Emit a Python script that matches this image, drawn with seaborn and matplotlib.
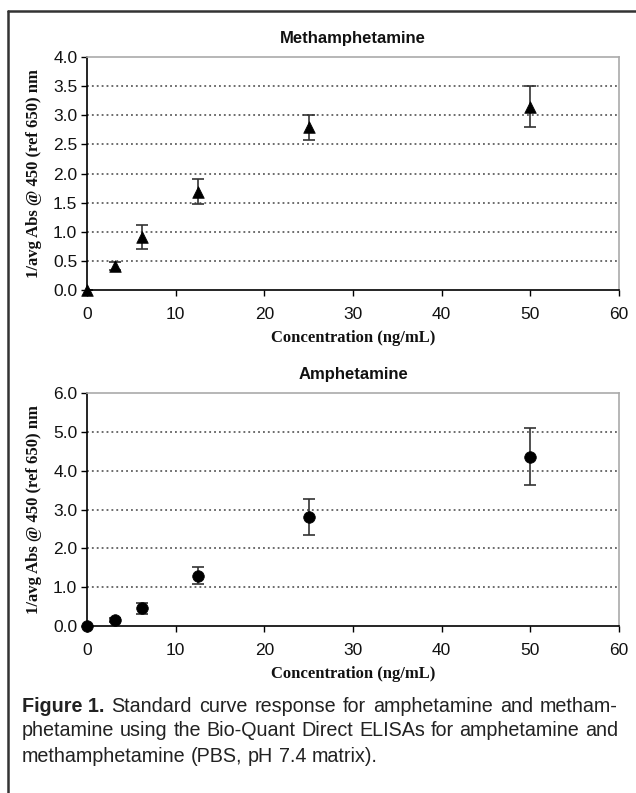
import matplotlib
matplotlib.use("Agg")
import matplotlib.pyplot as plt
import seaborn as sns
import pandas as pd
from matplotlib.lines import Line2D

# Data
conc = [0, 3.125, 6.25, 12.5, 25, 50]
meth_y = [0.0, 0.41, 0.91, 1.69, 2.79, 3.15]
meth_err = [0.0, 0.07, 0.20, 0.21, 0.22, 0.36]
amph_y = [0.0, 0.15, 0.46, 1.29, 2.81, 4.36]
amph_err = [0.0, 0.05, 0.14, 0.22, 0.46, 0.74]

meth_yticks = [0.0, 0.5, 1.0, 1.5, 2.0, 2.5, 3.0, 3.5, 4.0]
amph_yticks = [0.0, 1.0, 2.0, 3.0, 4.0, 5.0, 6.0]
xticks = [0, 10, 20, 30, 40, 50, 60]

titles = ["Methamphetamine", "Amphetamine"]
ylabel = "1/avg Abs @ 450 (ref 650) nm"
xlabel = "Concentration (ng/mL)"
caption_bold = "Figure 1."
caption_lines = [
    "Standard curve response for amphetamine and metham-",
    "phetamine using the Bio-Quant Direct ELISAs for amphetamine and",
    "methamphetamine (PBS, pH 7.4 matrix).",
]

sns.set_theme(style="white")
plt.rcParams["font.family"] = ["Liberation Sans", "DejaVu Sans"]

W, H = 636, 793
fig = plt.figure(figsize=(W / 100, H / 100), dpi=100)

def fx(px):
    return px / W

def fy(py):
    return 1 - py / H

ax1 = fig.add_axes([fx(87), fy(290), fx(619) - fx(87), fy(57) - fy(290)])
ax2 = fig.add_axes([fx(87), fy(626), fx(619) - fx(87), fy(393) - fy(626)])

df1 = pd.DataFrame({"x": conc, "y": meth_y})
df2 = pd.DataFrame({"x": conc, "y": amph_y})

panels = [
    (ax1, df1, meth_err, "^", meth_yticks, titles[0]),
    (ax2, df2, amph_err, "o", amph_yticks, titles[1]),
]

serif = ["Liberation Serif", "DejaVu Serif"]
for ax, df, err, mk, yt, title in panels:
    ax.set_xlim(0, 60)
    ax.set_ylim(yt[0], yt[-1])
    for v in yt[1:-1]:
        ax.axhline(v, color="#444444", lw=1.1, ls=(0, (1.2, 2.0)), zorder=1)
    ax.errorbar(df["x"], df["y"], yerr=err, fmt="none", ecolor="#333333",
                elinewidth=1.2, capsize=4.5, capthick=1.2, zorder=2)
    sns.scatterplot(data=df, x="x", y="y", marker=mk, s=70, color="black",
                    edgecolor="black", linewidth=0.5, ax=ax, zorder=3, clip_on=False)
    ax.set_xticks(xticks)
    ax.set_yticks(yt)
    ax.set_xticklabels([str(t) for t in xticks])
    ax.set_yticklabels([f"{t:.1f}" for t in yt])
    ax.tick_params(axis="both", which="major", labelsize=12.5, length=4,
                   width=1.0, color="black", direction="out",
                   bottom=True, left=True, pad=3, labelcolor="#111111")
    ax.tick_params(axis="x", pad=8)
    for s in ["left", "bottom"]:
        ax.spines[s].set_color("black")
        ax.spines[s].set_linewidth(1.2)
    for s in ["top", "right"]:
        ax.spines[s].set_color("#aaaaaa")
        ax.spines[s].set_linewidth(1.2)
    ax.set_xlabel(xlabel, family=serif, fontweight="bold", fontsize=12,
                  labelpad=6, color="#111111")
    ax.set_ylabel(ylabel, family=serif, fontweight="bold", fontsize=12,
                  labelpad=8, color="#111111")
    ax.set_title(title, fontweight="bold", fontsize=12, pad=10, color="#111111")
    ax.grid(False)
    ax.set_facecolor("white")

# Border lines of the figure box
fig.add_artist(Line2D([fx(8), fx(8)], [fy(11), 0], transform=fig.transFigure,
                      color="#333333", lw=1.8))
fig.add_artist(Line2D([fx(8), 1], [fy(11), fy(11)], transform=fig.transFigure,
                      color="#333333", lw=1.8))

# Caption (justified lines)
cap_font = ["Liberation Sans", "DejaVu Sans"]
cap_size = 14.2
cap_color = "#222222"
x_left, x_right = 22, 618
line_specs = [
    (706, [(caption_bold, "bold")] + [(w, "normal") for w in caption_lines[0].split()], True),
    (731, [(w, "normal") for w in caption_lines[1].split()], True),
    (756, [(w, "normal") for w in caption_lines[2].split()], False),
]
renderer = fig.canvas.get_renderer()
for ypx, words, justify in line_specs:
    texts = []
    for w, wt in words:
        t = fig.text(0, fy(ypx), w, family=cap_font, fontweight=wt,
                     fontsize=cap_size, va="center", ha="left", color=cap_color)
        texts.append(t)
    widths = [t.get_window_extent(renderer).width for t in texts]
    sp = fig.text(0, 0, "a b", family=cap_font, fontsize=cap_size)
    sp2 = fig.text(0, 0, "ab", family=cap_font, fontsize=cap_size)
    space_w = sp.get_window_extent(renderer).width - sp2.get_window_extent(renderer).width
    sp.remove()
    sp2.remove()
    total = sum(widths)
    if justify and len(texts) > 1:
        gap = (x_right - x_left - total) / (len(texts) - 1)
    else:
        gap = space_w
    x = x_left
    for t, w in zip(texts, widths):
        t.set_x(fx(x))
        x += w + gap

fig.savefig("out.png", dpi=100)
